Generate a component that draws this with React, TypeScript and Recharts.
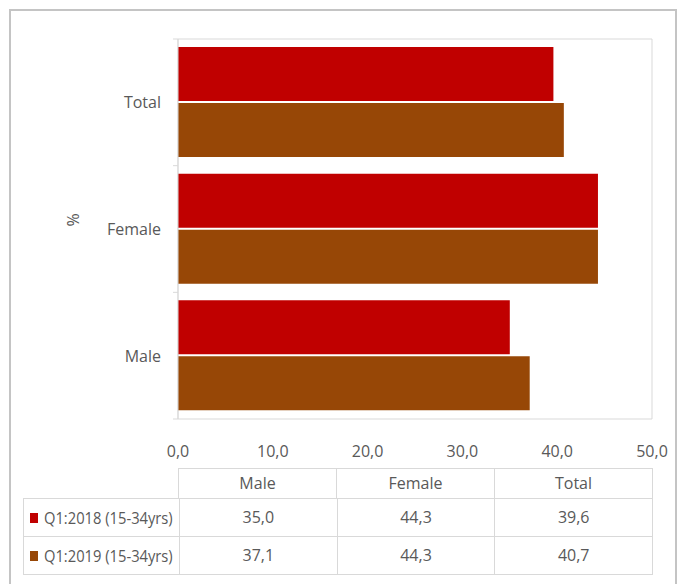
import { BarChart, Bar, XAxis, YAxis, ReferenceArea } from 'recharts'

const categories = ['Total', 'Female', 'Male']
const q1_2018 = [39.6, 44.3, 35.0]
const q1_2019 = [40.7, 44.3, 37.1]
const xTicks = [0, 10, 20, 30, 40, 50]

const tableCols = ['Male', 'Female', 'Total']
const seriesNames = ['Q1:2018 (15-34yrs)', 'Q1:2019 (15-34yrs)']
const RED = '#C00000'
const BROWN = '#974706'
const TEXT = '#595959'
const GRID = '#d9d9d9'
const FONT = "'Open Sans', sans-serif"

const data = categories.map((c, i) => ({ name: c, q18: q1_2018[i], q19: q1_2019[i] }))

const fmt = (v: number) => v.toFixed(1).replace('.', ',')

const CategoryTick = ({ x, y, payload, index }: any) => {
  const half = payload?.offset ?? 0
  return (
    <g>
      <line x1={173} x2={178} y1={y - half} y2={y - half} stroke={GRID} />
      {index === categories.length - 1 && (
        <line x1={173} x2={178} y1={y + half} y2={y + half} stroke={GRID} />
      )}
      <text x={x} y={y} textAnchor="end" dominantBaseline="central" fill={TEXT} fontSize={16} fontFamily={FONT}>
        {payload.value}
      </text>
    </g>
  )
}

export default function App() {
  const rowVals = [q1_2018, q1_2019]
  const colors = [RED, BROWN]
  // table columns follow Male, Female, Total order
  const idx = tableCols.map(c => categories.indexOf(c))

  return (
    <div style={{ position: 'absolute', left: 0, top: 0, width: 683, height: 584, background: '#fff', overflow: 'hidden', fontFamily: FONT }}>
      <div style={{ position: 'absolute', left: 9, top: 9, width: 668, height: 600, border: '2px solid #c4c4c4', boxSizing: 'border-box' }} />
      <div style={{ position: 'absolute', left: 0, top: 0 }}>
        <BarChart
          width={683}
          height={584}
          data={data}
          layout="vertical"
          margin={{ top: 39, right: 31, bottom: 135, left: 78 }}
          barSize={54}
          barGap={2}
        >
          <ReferenceArea x1={0} x2={50} fill="none" stroke={GRID} strokeWidth={1} />
          <XAxis
            type="number"
            domain={[0, 50]}
            ticks={xTicks}
            tickFormatter={fmt}
            axisLine={false}
            tickLine={false}
            tickMargin={21}
            height={30}
            tick={{ fill: TEXT, fontSize: 16, fontFamily: FONT }}
          />
          <YAxis
            type="category"
            dataKey="name"
            width={100}
            axisLine={{ stroke: GRID }}
            tickLine={false}
            tickMargin={11}
            tick={<CategoryTick />}
          />
          <Bar dataKey="q18" fill={RED} isAnimationActive={false} />
          <Bar dataKey="q19" fill={BROWN} isAnimationActive={false} />
        </BarChart>
      </div>

      <div
        style={{
          position: 'absolute', left: 73, top: 220, transform: 'translate(-50%, -50%) rotate(-90deg)',
          color: TEXT, fontSize: 16,
        }}
      >
        %
      </div>

      {/* data table */}
      <div style={{ position: 'absolute', left: 178, top: 468, width: 475, height: 30, display: 'flex', border: `1px solid ${GRID}`, borderBottom: 'none', boxSizing: 'border-box' }}>
        {tableCols.map((c, i) => (
          <div key={c} style={{ flex: 1, textAlign: 'center', lineHeight: '28px', color: TEXT, fontSize: 16, borderLeft: i ? `1px solid ${GRID}` : 'none' }}>
            {c}
          </div>
        ))}
      </div>
      {seriesNames.map((s, r) => (
        <div
          key={s}
          style={{
            position: 'absolute', left: 23, top: 498 + r * 38, width: 630, height: 38 + (r === 1 ? 1 : 0), display: 'flex',
            border: `1px solid ${GRID}`, borderBottom: r === 1 ? `1px solid ${GRID}` : 'none', boxSizing: 'border-box',
          }}
        >
          <div style={{ width: 155, display: 'flex', alignItems: 'center', color: TEXT, fontSize: 16, whiteSpace: 'nowrap', overflow: 'hidden' }}>
            <span style={{ display: 'inline-block', width: 8, height: 10, background: colors[r], marginLeft: 6, marginRight: 6, flex: 'none' }} />
            <span style={{ display: 'inline-block', transform: 'scaleX(0.92)', transformOrigin: 'left center' }}>{s}</span>
          </div>
          {idx.map((k, i) => (
            <div key={i} style={{ flex: 1, textAlign: 'center', lineHeight: '36px', color: TEXT, fontSize: 16, borderLeft: `1px solid ${GRID}` }}>
              {fmt(rowVals[r][k])}
            </div>
          ))}
        </div>
      ))}
    </div>
  )
}
